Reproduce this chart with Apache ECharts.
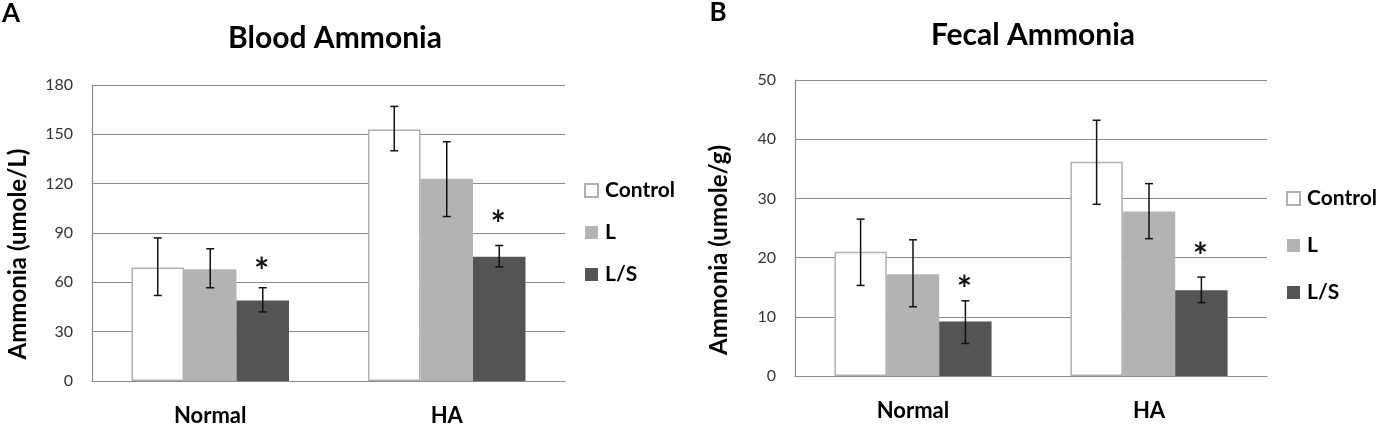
<!DOCTYPE html>
<html style="height: 100%">
<head>
    <meta charset="utf-8">
</head>
<body style="height: 100%; margin: 0; background: #fff">
    <div id="container" style="width: 1384px; height: 431px"></div>

    <script src="https://cdn.jsdelivr.net/npm/echarts@6/dist/echarts.min.js"></script>
    <script type="text/javascript">
        // data
        var categories = ['Normal', 'HA'];
        var groups = ['Control', 'L', 'L/S'];

        // A: blood ammonia (umole/L)
        var bloodControl = [69, 153];
        var bloodL = [68, 123];
        var bloodLS = [49, 75.5];
        var bloodControlErr = [[52, 87], [140, 167]];
        var bloodLErr = [[56.7, 80.4], [100, 145.5]];
        var bloodLSErr = [[42, 56.7], [69.4, 82.4]];
        var bloodStars = [71.6, 100.3];   // '*' over L/S
        var bloodTicks = [0, 30, 60, 90, 120, 150, 180];

        // B: fecal ammonia (umole/g)
        var fecalControl = [21, 36.2];
        var fecalL = [17.2, 27.8];
        var fecalLS = [9.2, 14.5];
        var fecalControlErr = [[15.3, 26.5], [29, 43.2]];
        var fecalLErr = [[11.7, 23], [23.2, 32.5]];
        var fecalLSErr = [[5.5, 12.7], [12.4, 16.7]];
        var fecalStars = [15.9, 21.6];
        var fecalTicks = [0, 10, 20, 30, 40, 50];

        var colors = ['#ffffff', '#b3b3b3', '#545454'];
        var BAR_FRAC = 0.222;
        var FONT = 'Lato, "Open Sans", sans-serif';
        var gridColor = '#8a8a8a';
        var STAR_SIZE = 36;

        var dom = document.getElementById('container');
        var myChart = echarts.init(dom);

        function barSeries(idx, name, values) {
            return {
                name: name,
                type: 'bar',
                xAxisIndex: idx,
                yAxisIndex: idx,
                data: values,
                barWidth: (BAR_FRAC * 100) + '%',
                barGap: '0%',
                itemStyle: name === 'Control'
                    ? { color: colors[0], borderColor: '#b0b0b0', borderWidth: 1.5 }
                    : { color: colors[groups.indexOf(name)] },
                animation: false,
                silent: true
            };
        }

        function errSeries(idx, slot, errs) {
            return {
                type: 'custom',
                xAxisIndex: idx,
                yAxisIndex: idx,
                z: 5,
                silent: true,
                animation: false,
                data: errs.map(function (e, i) { return [i, e[0], e[1]]; }),
                renderItem: function (params, api) {
                    var lo = api.coord([api.value(0), api.value(1)]);
                    var hi = api.coord([api.value(0), api.value(2)]);
                    var band = api.size([1, 0])[0];
                    var x = lo[0] + (slot - 1) * band * BAR_FRAC;
                    var cap = 4;
                    var st = { stroke: '#111', lineWidth: 1.5 };
                    return {
                        type: 'group',
                        children: [
                            { type: 'line', shape: { x1: x, y1: lo[1], x2: x, y2: hi[1] }, style: st },
                            { type: 'line', shape: { x1: x - cap, y1: lo[1], x2: x + cap, y2: lo[1] }, style: st },
                            { type: 'line', shape: { x1: x - cap, y1: hi[1], x2: x + cap, y2: hi[1] }, style: st }
                        ]
                    };
                }
            };
        }

        function starSeries(idx, slot, stars) {
            return {
                type: 'custom',
                xAxisIndex: idx,
                yAxisIndex: idx,
                z: 6,
                silent: true,
                animation: false,
                data: stars.map(function (v, i) { return [i, v]; }),
                renderItem: function (params, api) {
                    var p = api.coord([api.value(0), api.value(1)]);
                    var band = api.size([1, 0])[0];
                    var x = p[0] + (slot - 1) * band * BAR_FRAC - 1;
                    return {
                        type: 'text',
                        x: x,
                        y: p[1] + STAR_SIZE * 0.25,
                        style: {
                            text: '*',
                            font: 'bold ' + STAR_SIZE + 'px ' + FONT,
                            fill: '#111',
                            textAlign: 'center',
                            textVerticalAlign: 'middle'
                        }
                    };
                }
            };
        }

        function xAxisCfg(idx) {
            return {
                type: 'category',
                gridIndex: idx,
                data: categories,
                axisTick: { show: false },
                axisLine: { lineStyle: { color: gridColor, width: 1.2 } },
                axisLabel: { color: '#000', fontFamily: FONT, fontWeight: 'bold', fontSize: 22, margin: 24 }
            };
        }

        function yAxisCfg(idx, ticks) {
            return {
                type: 'value',
                gridIndex: idx,
                min: ticks[0],
                max: ticks[ticks.length - 1],
                interval: ticks[1] - ticks[0],
                axisLine: { show: true, lineStyle: { color: gridColor, width: 1.2 } },
                axisTick: { show: false },
                splitLine: { lineStyle: { color: gridColor, width: 1.2 } },
                axisLabel: { color: '#333', fontFamily: FONT, fontSize: 16, margin: 19 }
            };
        }

        function legendCfg(left, top, gap) {
            return {
                data: groups,
                orient: 'vertical',
                left: left,
                top: top,
                itemWidth: 13,
                itemHeight: 13,
                itemGap: gap,
                icon: 'rect',
                selectedMode: false,
                textStyle: { color: '#000', fontFamily: FONT, fontWeight: 'bold', fontSize: 21, padding: [0, 0, 0, 2] }
            };
        }

        function label(text, x, y, size, rot) {
            return {
                type: 'text',
                x: x,
                y: y,
                rotation: rot || 0,
                style: {
                    text: text,
                    font: 'bold ' + size + 'px ' + FONT,
                    fill: '#000',
                    textAlign: 'center',
                    textVerticalAlign: 'middle'
                }
            };
        }

        option = {
            animation: false,
            backgroundColor: '#fff',
            grid: [
                { left: 92, right: 819, top: 85, bottom: 50 },
                { left: 795, right: 117, top: 80, bottom: 55 }
            ],
            xAxis: [xAxisCfg(0), xAxisCfg(1)],
            yAxis: [yAxisCfg(0, bloodTicks), yAxisCfg(1, fecalTicks)],
            legend: [legendCfg(579, 175, 21), legendCfg(1281, 183, 26)],
            graphic: [
                label('A', 11, 14, 26),
                label('Blood Ammonia', 335, 38, 30),
                label('Ammonia (umole/L)', 18, 254, 24, Math.PI / 2),
                label('B', 718, 13, 26),
                label('Fecal Ammonia', 1033, 35, 30),
                label('Ammonia (umole/g)', 719, 250, 24, Math.PI / 2)
            ],
            series: [
                barSeries(0, 'Control', bloodControl),
                barSeries(0, 'L', bloodL),
                barSeries(0, 'L/S', bloodLS),
                errSeries(0, 0, bloodControlErr),
                errSeries(0, 1, bloodLErr),
                errSeries(0, 2, bloodLSErr),
                starSeries(0, 2, bloodStars),
                barSeries(1, 'Control', fecalControl),
                barSeries(1, 'L', fecalL),
                barSeries(1, 'L/S', fecalLS),
                errSeries(1, 0, fecalControlErr),
                errSeries(1, 1, fecalLErr),
                errSeries(1, 2, fecalLSErr),
                starSeries(1, 2, fecalStars)
            ]
        };

        myChart.setOption(option);
    </script>
</body>
</html>
